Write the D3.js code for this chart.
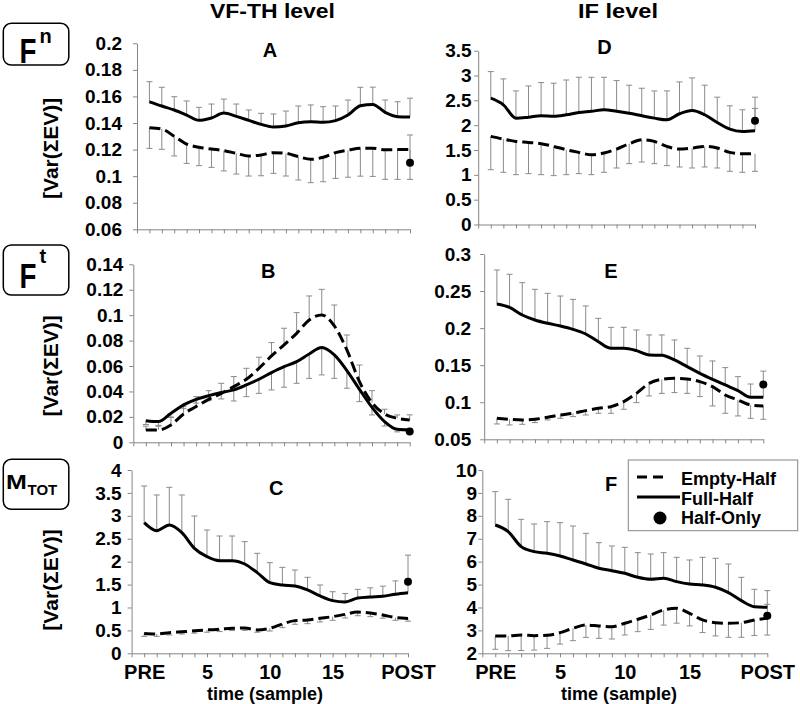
<!DOCTYPE html>
<html><head><meta charset="utf-8">
<script src="https://cdn.jsdelivr.net/npm/d3@7/dist/d3.min.js"></script>
<style>
html,body{margin:0;padding:0;background:#fff;}
svg{display:block;font-family:"Liberation Sans",Arial,sans-serif;font-weight:bold;}
</style></head>
<body>
<svg id="chart" width="800" height="704"></svg>
<script>
// ---------- data ----------
const samples = ["PRE","1","2","3","4","5","6","7","8","9","10","11","12","13","14","15","16","17","18","19","20","POST"];
const labeledSamples = ["PRE","5","10","15","POST"];

// Panel A (Fn, VF-TH level)
const aFull     = [0.156,0.1528,0.1498,0.146,0.142,0.1438,0.1475,0.145,0.142,0.139,0.137,0.1378,0.1402,0.141,0.1405,0.1418,0.146,0.153,0.154,0.148,0.1448,0.1445];
const aFullErr  = [0.0151,0.0141,0.010,0.0106,0.0098,0.0105,0.0105,0.0093,0.0078,0.0083,0.0098,0.0112,0.0126,0.0126,0.0118,0.011,0.0113,0.0139,0.013,0.0093,0.0112,0.0142];
const aEmpty    = [0.1365,0.1355,0.130,0.1242,0.1217,0.1204,0.1192,0.1172,0.1152,0.116,0.1177,0.1172,0.1147,0.1127,0.1142,0.1177,0.1195,0.121,0.121,0.1198,0.12,0.12];
const aEmptyErr = [0.0156,0.0153,0.0148,0.0146,0.0138,0.0138,0.0153,0.0156,0.0151,0.0157,0.0156,0.0171,0.0176,0.0176,0.0184,0.0194,0.0203,0.021,0.0212,0.0222,0.0224,0.0224];
const aHalfOnly = [0.110, 0.021];

// Panel D (Fn, IF level)
const dFull     = [2.543,2.41,2.142,2.162,2.19,2.18,2.21,2.256,2.28,2.31,2.28,2.24,2.19,2.142,2.108,2.23,2.296,2.21,2.055,1.92,1.874,1.888];
const dFullErr  = [0.536,0.522,0.548,0.628,0.668,0.665,0.70,0.709,0.685,0.655,0.618,0.565,0.554,0.548,0.582,0.641,0.656,0.595,0.509,0.47,0.436,0.45];
const dEmpty    = [1.774,1.72,1.673,1.653,1.626,1.573,1.506,1.452,1.405,1.439,1.519,1.626,1.707,1.673,1.573,1.519,1.539,1.573,1.539,1.452,1.426,1.426];
const dEmptyErr = [0.67,0.669,0.669,0.629,0.622,0.589,0.502,0.428,0.401,0.388,0.381,0.401,0.449,0.448,0.388,0.361,0.401,0.415,0.401,0.381,0.375,0.355];
const dHalfOnly = [2.088, 0.476];

// Panel B (Ft, VF-TH level)
const bFull     = [0.017,0.0163,0.0228,0.0294,0.0338,0.0367,0.0391,0.0412,0.0451,0.0496,0.0548,0.0595,0.0634,0.0695,0.0745,0.0687,0.0564,0.0417,0.0275,0.0163,0.0102,0.0097];
const bFullErr  = [0.003,0.003,0.003,0.003,0.003,0.004,0.005,0.0087,0.0092,0.0111,0.0136,0.0162,0.017,0.0192,0.0215,0.0184,0.0139,0.0097,0.006,0.0035,0.002,0.002];
const bEmpty    = [0.0097,0.0097,0.0136,0.0223,0.0281,0.0338,0.0385,0.0438,0.0496,0.0582,0.0679,0.0766,0.0857,0.0962,0.1002,0.0915,0.0726,0.0477,0.0312,0.0223,0.0189,0.0176];
const bEmptyErr = [0.003,0.003,0.006,0.0058,0.0078,0.0068,0.0079,0.0079,0.0086,0.0087,0.0105,0.0131,0.0163,0.0189,0.0201,0.0165,0.0118,0.0131,0.0094,0.0037,0.0026,0.004];
const bHalfOnly = [0.0084, 0.002];

// Panel E (Ft, IF level)
const eFull     = [0.2326,0.228,0.2177,0.211,0.2065,0.2029,0.1984,0.1921,0.1817,0.1728,0.1728,0.1696,0.1638,0.1633,0.157,0.148,0.139,0.1309,0.1233,0.1157,0.1066,0.1066];
const eFullErr  = [0.0458,0.0446,0.0436,0.0413,0.0404,0.0404,0.0404,0.0378,0.0315,0.0283,0.0283,0.0279,0.027,0.0275,0.027,0.0248,0.0234,0.0248,0.0234,0.0188,0.018,0.018];
const eEmpty    = [0.0783,0.077,0.0761,0.077,0.0797,0.0828,0.0851,0.0887,0.0918,0.0941,0.1008,0.112,0.1255,0.1309,0.1323,0.1314,0.1278,0.121,0.1098,0.1031,0.0963,0.095];
const eEmptyErr = [0.0076,0.0077,0.0059,0.0045,0.0036,0.0045,0.0045,0.0059,0.0067,0.009,0.0103,0.0125,0.017,0.0189,0.0193,0.0194,0.0202,0.026,0.0247,0.0216,0.018,0.018];
const eHalfOnly = [0.124, 0.018];

// Panel C (MTOT, VF-TH level)
const cFull     = [2.851,2.676,2.8,2.633,2.291,2.109,2.022,2.022,1.949,1.76,1.542,1.491,1.469,1.382,1.251,1.149,1.12,1.205,1.228,1.245,1.29,1.322];
const cFullErr  = [0.8,0.779,0.822,0.822,0.705,0.582,0.538,0.538,0.487,0.422,0.436,0.385,0.349,0.276,0.24,0.195,0.185,0.19,0.2,0.22,0.29,0.3];
const cEmpty    = [0.43,0.42,0.45,0.47,0.49,0.51,0.524,0.546,0.55,0.51,0.546,0.64,0.713,0.727,0.764,0.8,0.85,0.9,0.88,0.836,0.78,0.76];
const cEmptyErr = [0.06,0.05,0.05,0.05,0.05,0.05,0.05,0.05,0.05,0.05,0.06,0.08,0.08,0.08,0.08,0.08,0.08,0.08,0.08,0.07,0.06,0.06];
const cHalfOnly = [1.562, 0.58];

// Panel F (MTOT, IF level)
const fFull     = [7.6,7.309,6.655,6.436,6.364,6.247,6.073,5.898,5.709,5.607,5.491,5.316,5.229,5.273,5.127,5.025,4.982,4.88,4.647,4.298,4.036,4.007];
const fFullErr  = [1.455,1.411,1.192,1.208,1.381,1.455,1.483,1.338,1.12,1.077,1.134,1.077,1.106,1.12,1.062,1.048,1.207,1.265,1.251,1.018,0.757,0.728];
const fEmpty    = [2.756,2.756,2.8,2.771,2.785,2.902,3.091,3.236,3.193,3.164,3.309,3.484,3.673,3.891,3.964,3.745,3.455,3.338,3.309,3.338,3.455,3.527];
const fEmptyErr = [0.58,0.64,0.68,0.63,0.57,0.5,0.54,0.54,0.54,0.54,0.51,0.54,0.63,0.66,0.65,0.55,0.55,0.58,0.61,0.64,0.68,0.73];
const fHalfOnly = [3.64, 0.5];

// y-axis ticks
const aTicks = [0.06,0.08,0.1,0.12,0.14,0.16,0.18,0.2];
const dTicks = [0,0.5,1,1.5,2,2.5,3,3.5];
const bTicks = [0,0.02,0.04,0.06,0.08,0.1,0.12,0.14];
const eTicks = [0.05,0.1,0.15,0.2,0.25,0.3];
const cTicks = [0,0.5,1,1.5,2,2.5,3,3.5,4];
const fTicks = [2,3,4,5,6,7,8,9,10];

const columnTitles = ["VF-TH level","IF level"];
const yTitle = "[Var(\u03A3EV)]";
const xTitle = "time (sample)";
const legendLabels = ["Empty-Half","Full-Half","Half-Only"];

// ---------- layout (pixel geometry only) ----------
const panels = [
  {letter:"A", full:aFull, fullErr:aFullErr, empty:aEmpty, emptyErr:aEmptyErr, half:aHalfOnly, ticks:aTicks,
   x0:137, x1:410, yT:43.3, yB:229.3, gap:15, lx:270, ly:56.7, fullUp:true, xlab:false},
  {letter:"D", full:dFull, fullErr:dFullErr, empty:dEmpty, emptyErr:dEmptyErr, half:dHalfOnly, ticks:dTicks,
   x0:478.2, x1:755, yT:50.7, yB:224.5, gap:6.6, lx:604.5, ly:54, fullUp:true, xlab:false},
  {letter:"B", full:bFull, fullErr:bFullErr, empty:bEmpty, emptyErr:bEmptyErr, half:bHalfOnly, ticks:bTicks,
   x0:133.3, x1:409.7, yT:264.3, yB:442.3, gap:10, lx:268.3, ly:278.3, fullUp:false, xlab:false},
  {letter:"E", full:eFull, fullErr:eFullErr, empty:eEmpty, emptyErr:eEmptyErr, half:eHalfOnly, ticks:eTicks,
   x0:484.2, x1:763.3, yT:254, yB:439.3, gap:13, lx:611, ly:278.3, fullUp:true, xlab:false},
  {letter:"C", full:cFull, fullErr:cFullErr, empty:cEmpty, emptyErr:cEmptyErr, half:cHalfOnly, ticks:cTicks,
   x0:131.6, x1:408, yT:470, yB:653.3, gap:10, lx:276.3, ly:495, fullUp:true, xlab:true, xtx:265},
  {letter:"F", full:fFull, fullErr:fFullErr, empty:fEmpty, emptyErr:fEmptyErr, half:fHalfOnly, ticks:fTicks,
   x0:482.3, x1:767.3, yT:470, yB:653.3, gap:5.3, lx:611, ly:490.7, fullUp:true, xlab:true, xtx:619}
];

const AXIS = "#868686", ERR = "#8a8a8a";
const svg = d3.select("#chart");
const n = samples.length;

panels.forEach(p => {
  const g = svg.append("g");
  const x = d3.scaleLinear().domain([-1, n - 1]).range([p.x0, p.x1]);
  const y = d3.scaleLinear().domain([p.ticks[0], p.ticks[p.ticks.length - 1]]).range([p.yB, p.yT]);

  // y axis
  const ya = g.append("g").attr("transform", `translate(${p.x0},0)`)
    .call(d3.axisLeft(y).tickValues(p.ticks).tickSize(4).tickSizeOuter(0)
      .tickPadding(p.gap - 4).tickFormat(d => String(d)));
  ya.select(".domain").attr("stroke", AXIS);
  ya.selectAll(".tick line").attr("stroke", AXIS);
  ya.selectAll(".tick text").attr("fill", "#000").style("font-size", "19px").style("font-weight", "bold")
    .style("font-family", '"Liberation Sans",Arial,sans-serif');

  // x axis
  const xa = g.append("g").attr("transform", `translate(0,${p.yB})`)
    .call(d3.axisBottom(x).tickValues(d3.range(-1, n)).tickSize(4).tickSizeOuter(0).tickPadding(8)
      .tickFormat(i => (p.xlab && i >= 0 && labeledSamples.includes(samples[i])) ? samples[i] : ""));
  xa.select(".domain").attr("stroke", AXIS);
  xa.selectAll(".tick line").attr("stroke", AXIS);
  xa.selectAll(".tick text").attr("fill", "#000").style("font-size", "20px").style("font-weight", "bold")
    .style("font-family", '"Liberation Sans",Arial,sans-serif');
  xa.selectAll(".tick text").filter(function(){ return this.textContent === ""; }).remove();

  // error bars
  const drawErr = (vals, errs, up) => {
    const eg = g.append("g").attr("stroke", ERR).attr("stroke-width", 1).attr("fill", "none");
    vals.forEach((v, i) => {
      const end = up ? v + errs[i] : v - errs[i];
      eg.append("line").attr("x1", x(i)).attr("x2", x(i)).attr("y1", y(v)).attr("y2", y(end));
      eg.append("line").attr("x1", x(i) - 3).attr("x2", x(i) + 3).attr("y1", y(end)).attr("y2", y(end));
    });
  };
  drawErr(p.full, p.fullErr, p.fullUp);
  drawErr(p.empty, p.emptyErr, !p.fullUp);
  // half-only error bar (upward)
  {
    const hv = p.half[0], he = p.half[1];
    const eg = g.append("g").attr("stroke", ERR).attr("stroke-width", 1);
    eg.append("line").attr("x1", x(n - 1)).attr("x2", x(n - 1)).attr("y1", y(hv)).attr("y2", y(hv + he));
    eg.append("line").attr("x1", x(n - 1) - 3).attr("x2", x(n - 1) + 3).attr("y1", y(hv + he)).attr("y2", y(hv + he));
  }

  const line = d3.line().x((d, i) => x(i)).y(d => y(d)).curve(d3.curveMonotoneX);
  g.append("path").datum(p.empty).attr("d", line).attr("fill", "none").attr("stroke", "#000")
    .attr("stroke-width", 3).attr("stroke-dasharray", "11,5");
  g.append("path").datum(p.full).attr("d", line).attr("fill", "none").attr("stroke", "#000")
    .attr("stroke-width", 3);
  g.append("circle").attr("cx", x(n - 1)).attr("cy", y(p.half[0])).attr("r", 4).attr("fill", "#000");

  // panel letter
  g.append("text").attr("x", p.lx).attr("y", p.ly).attr("text-anchor", "middle")
    .style("font-size", "20px").text(p.letter);

  if (p.xlab) {
    g.append("text").attr("x", p.xtx).attr("y", 700).attr("text-anchor", "middle")
      .style("font-size", "18px").text(xTitle);
  }
});

// column titles
svg.append("text").attr("x", 272.5).attr("y", 18.3).attr("text-anchor", "middle")
  .attr("textLength", 125).attr("lengthAdjust", "spacingAndGlyphs")
  .style("font-size", "20px").text(columnTitles[0]);
svg.append("text").attr("x", 618).attr("y", 18.3).attr("text-anchor", "middle")
  .attr("textLength", 80).attr("lengthAdjust", "spacingAndGlyphs")
  .style("font-size", "20px").text(columnTitles[1]);

// y-axis titles
[148.3, 365.8, 580].forEach(cy => {
  svg.append("text").attr("transform", `translate(58,${cy}) rotate(-90)`).attr("text-anchor", "middle")
    .style("font-size", "21px").text(yTitle);
});

// row label boxes
const boxes = [
  {y:23.3, h:41.7}, {y:245, h:50}, {y:459.3, h:50}
];
boxes.forEach(b => {
  svg.append("rect").attr("x", 3.3).attr("y", b.y).attr("width", 65.5).attr("height", b.h)
    .attr("rx", 8).attr("ry", 8).attr("fill", "#fff").attr("stroke", "#000").attr("stroke-width", 1.5);
});
// Fn
svg.append("text").attr("transform", "translate(19.5,63) scale(0.77,1)")
  .style("font-size", "36px").text("F");
svg.append("text").attr("x", 39.5).attr("y", 42.7).style("font-size", "20px").text("n");
// Ft
svg.append("text").attr("transform", "translate(19.5,288.3) scale(0.77,1)")
  .style("font-size", "36px").text("F");
svg.append("text").attr("x", 39.5).attr("y", 263.3).style("font-size", "20px").text("t");
// MTOT
svg.append("text").attr("transform", "translate(6,489.3) scale(1.25,1)")
  .style("font-size", "20px").text("M");
svg.append("text").attr("x", 27.5).attr("y", 494.7).style("font-size", "15px").text("TOT");

// legend
const lg = svg.append("g");
lg.append("rect").attr("x", 628.3).attr("y", 460).attr("width", 169.4).attr("height", 70.7)
  .attr("fill", "#fff").attr("stroke", AXIS).attr("stroke-width", 1);
lg.append("line").attr("x1", 637).attr("x2", 663).attr("y1", 477).attr("y2", 477)
  .attr("stroke", "#000").attr("stroke-width", 3).attr("stroke-dasharray", "10,6");
lg.append("line").attr("x1", 637).attr("x2", 680).attr("y1", 497).attr("y2", 497)
  .attr("stroke", "#000").attr("stroke-width", 3);
lg.append("circle").attr("cx", 660).attr("cy", 518).attr("r", 6.5).attr("fill", "#000");
[485, 504.5, 523.5].forEach((yy, i) => {
  lg.append("text").attr("x", 681).attr("y", yy).style("font-size", "18px").text(legendLabels[i]);
});
</script>
</body></html>
